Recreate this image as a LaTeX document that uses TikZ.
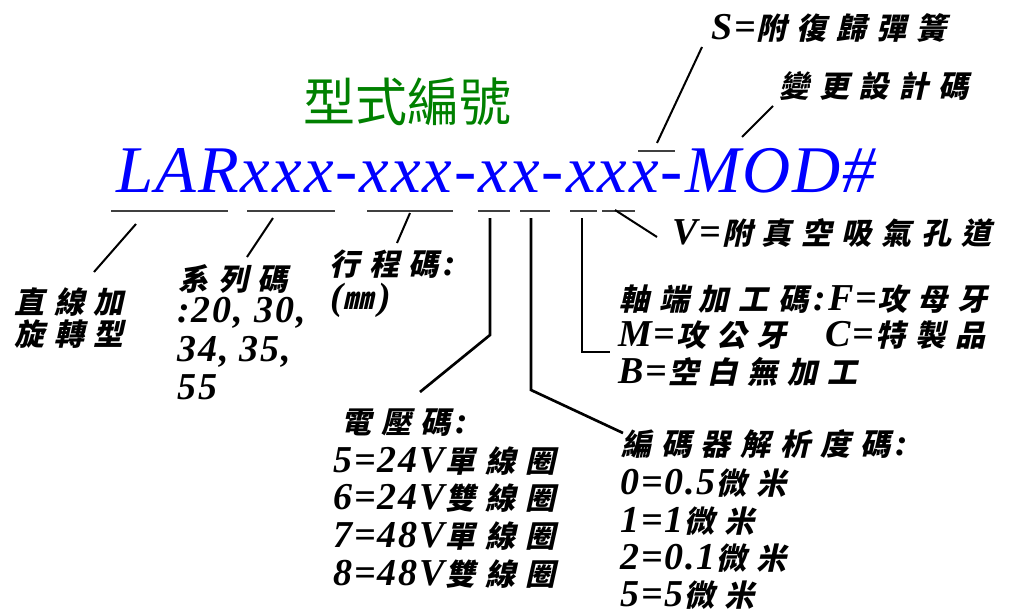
\documentclass[tikz,border=0pt]{standalone}
\usepackage{fontspec}
\setmainfont[LetterSpace=5]{Liberation Serif}
\newfontfamily\codefont[LetterSpace=3]{Liberation Serif}
\newfontfamily\cjkfont[LetterSpace=33]{Noto Sans CJK TC}
\newfontfamily\cjkup{Noto Sans CJK TC}
\newcommand\cjkslantfont{\fontsize{22.5}{30}\selectfont\cjkfont\upshape\bfseries}
\newcommand\cjt[1]{\tikz[baseline=0pt]\node[inner sep=0pt, anchor=base west, xslant=0.22, transform shape, text height=16pt, text depth=3pt, font=\cjkslantfont]{#1};}
\newcommand\lbfont{\fontsize{28.5}{30}\selectfont\bfseries\itshape}
\definecolor{titlegreen}{RGB}{0,128,0}
\definecolor{codeblue}{RGB}{0,0,255}
\tikzset{
  lbl/.style={anchor=base west, inner sep=0pt, font=\lbfont, text height=20pt, text depth=4pt},
  ul/.style={line width=1.5pt, draw=black!75},
  conn/.style={line width=1.5pt, line join=miter},
  vconn/.style={line width=2pt, line join=miter},
}
\begin{document}
\begin{tikzpicture}[x=0.75pt, y=-0.75pt]
\useasboundingbox (0,0) rectangle (1025,614);

% title and code
\node[anchor=base west, inner sep=0pt, text=titlegreen, font=\fontsize{39}{40}\selectfont\cjkup] (title) at (303,121) {型式編號};
\node[anchor=base west, inner sep=0pt, text=codeblue, font=\fontsize{50}{50}\selectfont\codefont\itshape] (code) at (116,192) {LARxxx-xxx-xx-xxx-MOD\#};

% underline segments
\foreach \a/\b in {111/228, 247/335, 367/453, 478/510, 520/550, 570/597, 602/635} {
  \draw[ul] (\a,211) -- (\b,211);
}
\draw[ul] (638,151) -- (675,151);

% labels
\node[lbl] (a1) at (13,313) {\cjt{直線加}};
\node[lbl] (a2) at (13,345) {\cjt{旋轉型}};
\node[lbl] (b1) at (177,290) {\cjt{系列碼}};
\node[lbl] (b2) at (177,322) {:20, 30,};
\node[lbl] (b3) at (177,361) {34, 35,};
\node[lbl] (b4) at (177,399) {55};
\node[lbl] (c1) at (328,275) {\cjt{行程碼}:};
\node[lbl] (c2) at (330,309) {(\cjt{㎜})};
\node[lbl] (s1) at (711,40) {S=\cjt{附復歸彈簧}};
\node[lbl] (m1) at (778,97) {\cjt{變更設計碼}};
\node[lbl] (v1) at (672,244) {V=\cjt{附真空吸氣孔道}};
\node[lbl] (f1) at (618,310) {\cjt{軸端加工碼}:F=\cjt{攻母牙}};
\node[lbl] (f2) at (618,346) {M=\cjt{攻公牙}\hspace{26pt}C=\cjt{特製品}};
\node[lbl] (f3) at (618,383) {B=\cjt{空白無加工}};
\node[lbl] (e1) at (340,433) {\cjt{電壓碼}:};
\node[lbl] (e2) at (333,472) {5=24V\cjt{單線圈}};
\node[lbl] (e3) at (333,509) {6=24V\cjt{雙線圈}};
\node[lbl] (e4) at (333,547) {7=48V\cjt{單線圈}};
\node[lbl] (e5) at (333,585) {8=48V\cjt{雙線圈}};
\node[lbl] (g1) at (620,455) {\cjt{編碼器解析度碼}:};
\node[lbl] (g2) at (620,494) {0=0.5\cjt{微米}};
\node[lbl] (g3) at (620,532) {1=1\cjt{微米}};
\node[lbl] (g4) at (620,569) {2=0.1\cjt{微米}};
\node[lbl] (g5) at (620,606) {5=5\cjt{微米}};

% connector coordinates
\coordinate (p1a) at (136,224); \coordinate (p1b) at (94,272);
\coordinate (p2a) at (273,218); \coordinate (p2b) at (247,257);
\coordinate (p3a) at (410,213); \coordinate (p3b) at (397,243);
\coordinate (p4a) at (490,218); \coordinate (p4k) at (490,335); \coordinate (p4b) at (420,392);
\coordinate (p5a) at (531,218); \coordinate (p5k) at (531,390); \coordinate (p5b) at (623,433);
\coordinate (p6a) at (582,218); \coordinate (p6k) at (582,352); \coordinate (p6b) at (610,352);
\coordinate (p7a) at (615,210); \coordinate (p7b) at (657,237);
\coordinate (p8a) at (657,143); \coordinate (p8b) at (702,47);
\coordinate (p9a) at (742,137); \coordinate (p9b) at (773,106);

\draw[conn] (p1a) -- (p1b);
\draw[conn] (p2a) -- (p2b);
\draw[conn] (p3a) -- (p3b);
\draw[vconn] (p4a) -- (p4k) -- (p4b);
\draw[vconn] (p5a) -- (p5k) -- (p5b);
\draw[vconn] (p6a) -- (p6k) -- (p6b);
\draw[conn] (p7a) -- (p7b);
\draw[conn] (p8a) -- (p8b);
\draw[conn] (p9a) -- (p9b);
\end{tikzpicture}
\end{document}
